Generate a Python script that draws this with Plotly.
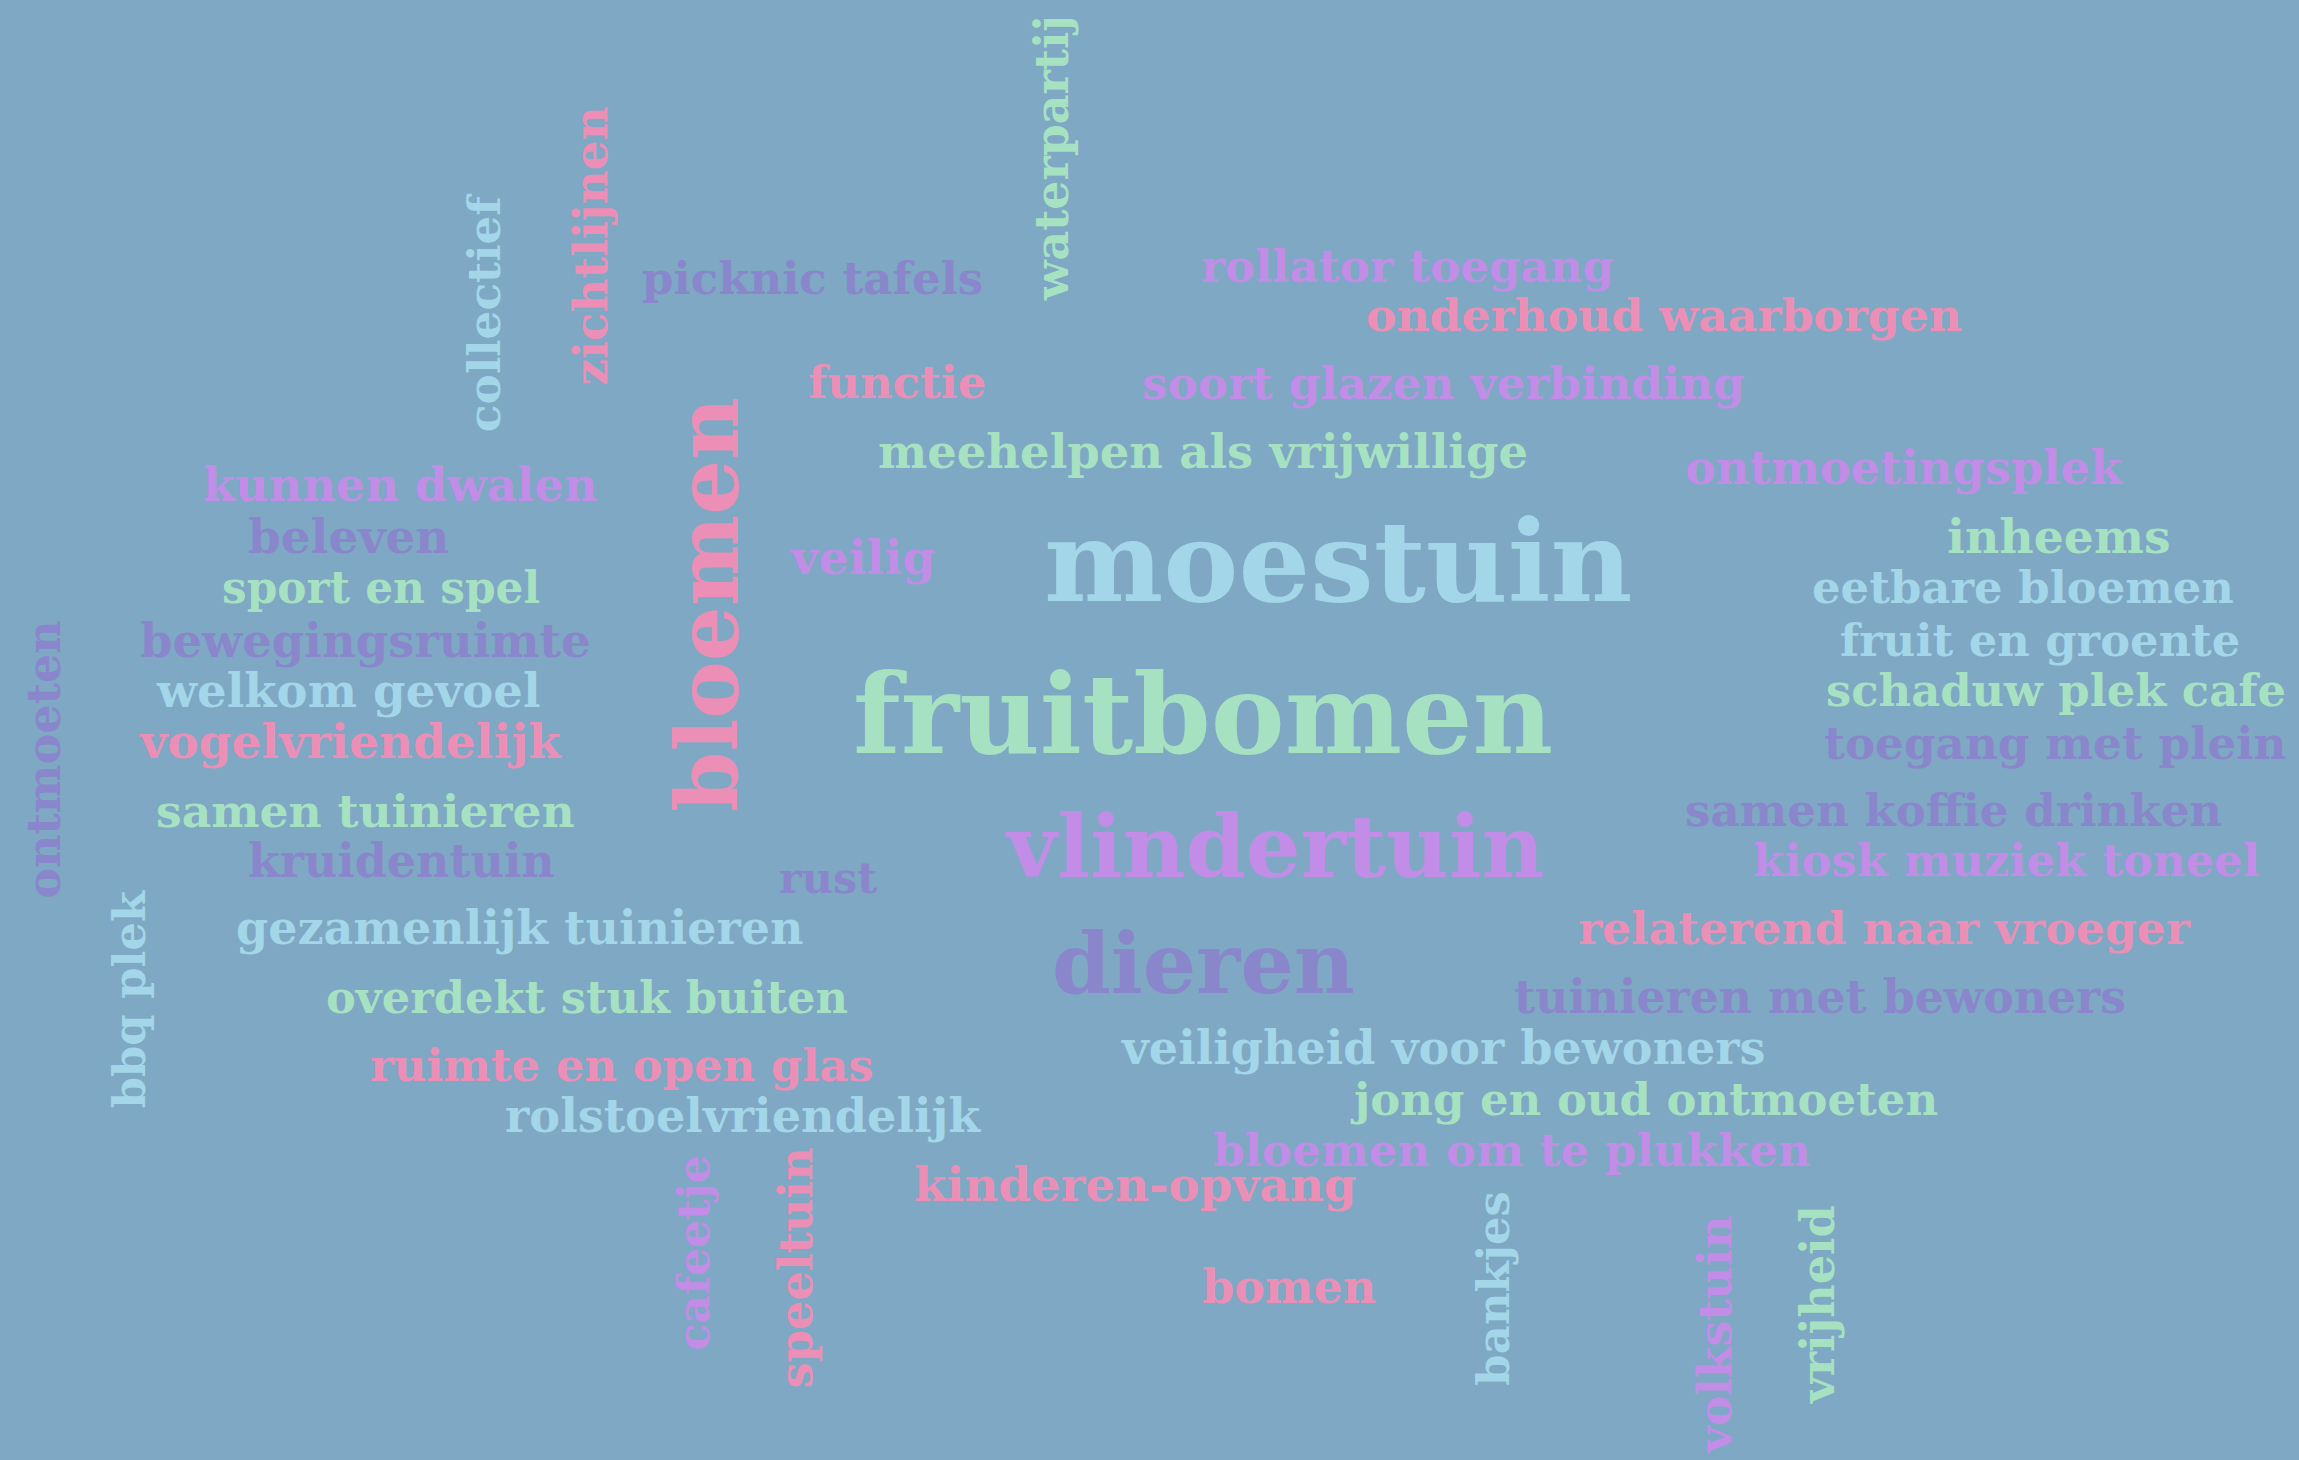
import plotly.graph_objects as go

# ---------------- data ----------------
words = [
    "picknic tafels", "rollator toegang", "onderhoud waarborgen", "functie",
    "soort glazen verbinding", "meehelpen als vrijwillige", "ontmoetingsplek",
    "kunnen dwalen", "beleven", "inheems", "veilig", "moestuin", "sport en spel",
    "eetbare bloemen", "bewegingsruimte", "fruit en groente", "welkom gevoel",
    "schaduw plek cafe", "fruitbomen", "vogelvriendelijk", "toegang met plein",
    "samen tuinieren", "samen koffie drinken", "vlindertuin", "kruidentuin",
    "kiosk muziek toneel", "rust", "gezamenlijk tuinieren", "relaterend naar vroeger",
    "dieren", "overdekt stuk buiten", "tuinieren met bewoners", "ruimte en open glas",
    "veiligheid voor bewoners", "jong en oud ontmoeten", "rolstoelvriendelijk",
    "bloemen om te plukken", "kinderen-opvang", "bomen",
    "collectief", "zichtlijnen", "waterpartij", "bloemen", "ontmoeten", "bbq plek",
    "cafeetje", "speeltuin", "bankjes", "volkstuin", "vrijheid",
]
# colour group of every word (0 light blue, 1 mint, 2 pink, 3 orchid, 4 violet)
groups = [
    4, 3, 2, 2, 3, 1, 3, 3, 4, 1, 3, 0, 1, 0, 4, 0, 0, 1, 1, 2, 4, 1, 4, 3, 4,
    3, 4, 0, 2, 4, 1, 4, 2, 0, 1, 0, 3, 2, 2,
    0, 2, 1, 2, 4, 0, 3, 2, 0, 3, 1,
]
vertical = [False] * 39 + [True] * 11

# ---------------- layout (placement in the 1568x996 preview frame) ----------------
# (start, end) extent along reading direction, and centre on the other axis
extent = [
    (438, 670, 190), (820, 1100, 182), (932, 1338, 215), (551, 672, 261),
    (779, 1190, 261), (598, 1043, 308), (1150, 1447, 319), (138, 408, 331),
    (168, 307, 366), (1328, 1480, 366), (538, 638, 380), (713, 1113, 383),
    (152, 368, 401), (1237, 1523, 401), (95, 403, 437), (1256, 1527, 437),
    (105, 370, 471), (1245, 1560, 471), (583, 1058, 487), (94, 384, 506),
    (1245, 1558, 507), (107, 391, 553), (1149, 1516, 553), (685, 1053, 577),
    (170, 378, 587), (1196, 1541, 587), (531, 598, 599), (162, 547, 633),
    (1077, 1494, 633), (718, 923, 657), (222, 579, 680), (1033, 1450, 680),
    (254, 595, 727), (763, 1206, 715), (924, 1319, 750), (344, 669, 761),
    (829, 1234, 785), (623, 925, 808), (820, 938, 878),
    # vertical: (top, bottom, x-centre)
    (133, 293, 330), (73, 262, 403), (10, 206, 718), (272, 553, 483),
    (423, 612, 30), (608, 755, 88), (788, 921, 473), (783, 947, 543),
    (812, 945, 1018), (828, 992, 1170), (822, 958, 1240),
]

SCALE = 2299 / 1568
W, H = 2299, 1460
BG = "#7ea8c3"
PALETTE = ["#a2d6e8", "#a6e2c2", "#ec8fb6", "#c28de6", "#8a86cc"]
FONT = "DejaVu Serif"
WIDTH_FIX = 1.04

# approximate advance widths (em) for DejaVu Serif Bold
CW = {
    'a': .68, 'b': .72, 'c': .62, 'd': .72, 'e': .66, 'f': .46, 'g': .72, 'h': .75,
    'i': .39, 'j': .37, 'k': .73, 'l': .39, 'm': 1.09, 'n': .75, 'o': .69, 'p': .72,
    'q': .72, 'r': .54, 's': .60, 't': .48, 'u': .75, 'v': .68, 'w': .97, 'x': .69,
    'y': .68, 'z': .60, ' ': .35, '-': .41,
}


def em_width(s):
    return sum(CW.get(ch, .65) for ch in s)


annotations = []
for w, g, vert, (a, b, c) in zip(words, groups, vertical, extent):
    length = (b - a) * SCALE
    size = length / em_width(w) * WIDTH_FIX
    mid = (a + b) / 2 * SCALE
    other = c * SCALE
    if vert:
        x, y, ang = other, mid, -90
    else:
        x, y, ang = mid, other, 0
    annotations.append(dict(
        x=x, y=y, xref="x", yref="y", text=w, showarrow=False,
        textangle=ang, xanchor="center", yanchor="middle",
        font=dict(family=FONT, size=size, color=PALETTE[g], weight="bold"),
    ))

fig = go.Figure()
fig.add_trace(go.Scatter(x=[0, W], y=[0, H], mode="markers",
                         marker=dict(opacity=0), hoverinfo="skip", showlegend=False))
fig.update_layout(
    width=W, height=H, margin=dict(l=0, r=0, t=0, b=0),
    paper_bgcolor=BG, plot_bgcolor=BG,
    xaxis=dict(range=[0, W], visible=False, fixedrange=True),
    yaxis=dict(range=[H, 0], visible=False, fixedrange=True),
    annotations=annotations,
)
fig.write_html("out.html", config={"displayModeBar": False},
               post_script="document.body.style.margin='0';")
